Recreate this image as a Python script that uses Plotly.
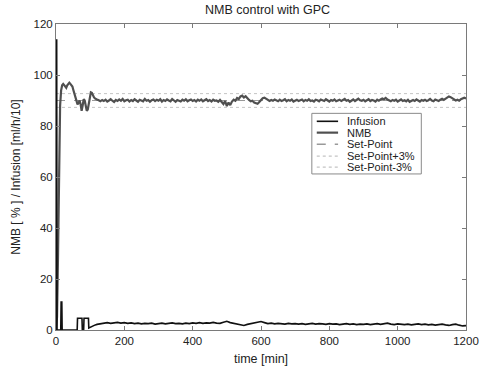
import numpy as np
import plotly.graph_objects as go

# ---------------- data ----------------
title = "NMB control with GPC"
x_label = "time [min]"
y_label = "NMB [ % ] / Infusion [ml/h/10]"
x_ticks = [0, 200, 400, 600, 800, 1000, 1200]
y_ticks = [0, 20, 40, 60, 80, 100, 120]

set_point = 90.0
set_plus = 92.7
set_minus = 87.3

# NMB transient (t, value)
nmb_t_early = [0, 3, 6, 9, 12, 15, 18, 21, 24, 27, 30, 33, 36, 39, 42, 45, 48, 51, 54,
               57, 60, 63, 66, 69, 72, 75, 78, 81, 84, 87, 90, 93, 96, 99, 102, 105,
               108, 111, 114, 117]
nmb_v_early = [0, 5, 30, 70, 88, 94, 96, 96.5, 96, 95.5, 95, 96, 96.5, 97, 96.5, 96,
               95.5, 94, 92.5, 91, 89.5, 88.5, 89, 90, 88.5, 86, 88, 90.5, 90, 88,
               86, 86.5, 89, 91.5, 93.2, 93, 92, 91.3, 90.8, 90.5]
# NMB steady state, every 5 min from 120 to 1200
nmb_v_steady = [
    90.4, 90.1, 89.7, 90.2, 89.8, 90.3, 89.6, 90.0, 90.5, 89.9, 89.4, 90.2,
    89.8, 90.4, 89.9, 90.6, 89.7, 90.1, 90.3, 89.6, 90.2, 89.8, 90.5, 90.0,
    89.5, 90.3, 90.0, 89.7, 90.6, 89.9, 90.2, 89.5, 90.1, 90.4, 89.8, 90.3,
    89.9, 90.5, 89.6, 90.2, 89.8, 90.4, 90.0, 89.7, 90.6, 90.1, 89.5, 90.2,
    90.0, 89.6, 90.3, 89.9, 90.5, 89.7, 90.1, 90.4, 89.8, 90.2, 89.6, 90.3,
    89.9, 90.4, 89.7, 90.1, 90.5, 89.8, 90.2, 89.6, 90.3, 89.9, 90.0, 89.5,
    90.2, 89.4, 88.6, 89.8, 87.8, 89.2, 88.2, 89.6, 90.3, 89.9, 91.0, 90.6,
    91.6, 91.9, 91.2, 91.7, 90.8, 90.2, 89.7, 89.9, 89.2, 88.9, 88.7, 89.4,
    90.2, 90.9, 91.1, 90.6, 90.3, 89.8, 90.2, 89.9, 90.4, 90.0, 89.7, 90.3,
    89.8, 90.1, 90.5, 89.7, 90.2, 89.9, 90.4, 89.6, 90.1, 90.3, 89.8, 90.0,
    90.4, 89.7, 90.2, 89.9, 90.5, 89.8, 90.0, 89.6, 90.3, 90.1, 89.7, 90.4,
    90.0, 89.8, 90.5, 90.1, 89.6, 90.2, 89.9, 90.4, 89.7, 90.0, 90.3, 89.8,
    90.1, 90.6, 89.9, 90.2, 89.5, 90.0, 90.4, 89.8, 90.2, 90.7, 90.1, 89.9,
    90.3, 89.7, 90.1, 90.5, 89.8, 90.2, 90.0, 89.6, 90.3, 89.9, 90.4, 90.8,
    90.5, 91.0, 90.4, 90.1, 89.7, 90.2, 89.9, 90.3, 89.6, 90.0, 90.4, 89.8,
    90.1, 89.7, 90.3, 89.5, 89.9, 90.2, 89.8, 90.4, 90.0, 89.6, 90.2, 89.9,
    90.3, 89.8, 90.1, 90.6, 90.0, 89.7, 90.4, 90.1, 89.8, 90.3, 90.7, 90.2,
    90.6, 91.2, 91.6, 91.3, 90.8, 90.4, 90.0, 90.3, 89.9, 90.5, 90.9, 91.1,
    90.8]

# Infusion transient (t, value)
inf_t_early = [0, 0.5, 2, 3, 14, 15, 17, 18, 62, 63, 76, 77, 81, 82, 95, 96, 100, 105, 110, 115]
inf_v_early = [0, 114, 114, 0, 0, 11, 11, 0, 0, 4.6, 4.6, 0.3, 0.3, 4.6, 4.6, 0.8, 1.1, 1.5, 1.8, 2.0]
# Infusion steady state, every 10 min from 120 to 1200
inf_v_steady = [
    2.2, 2.5, 2.7, 2.9, 2.6, 2.8,
    3.0, 2.7, 2.9, 2.6, 2.8, 2.5,
    2.7, 2.4, 2.6, 2.5, 2.7, 2.3,
    2.5, 2.7, 2.4, 2.6, 2.8, 2.5,
    2.6, 2.4, 2.7, 2.5, 2.8, 2.6,
    2.9, 2.6, 2.8, 2.7, 3.0, 2.7,
    2.6, 3.0, 3.4, 2.9, 2.6, 2.3,
    1.9, 1.8, 2.2, 2.5, 2.8, 3.1,
    3.3, 2.9, 2.5, 2.7, 2.4, 2.6,
    2.5, 2.3, 2.6, 2.4, 2.5, 2.3,
    2.5, 2.2, 2.4, 2.6, 2.3, 2.5,
    2.4, 2.2, 2.5, 2.3, 2.4, 2.1,
    2.3, 2.5, 2.2, 2.4, 2.1, 2.3,
    2.2, 2.4, 2.1, 2.3, 2.5, 2.2,
    2.4, 2.7, 2.3, 2.1, 2.4, 2.2,
    2.1, 2.3, 2.0, 2.2, 2.4, 2.1,
    2.3, 2.0, 2.2, 1.9, 2.1, 2.3,
    2.0, 1.8, 2.1, 2.3, 1.9, 1.6,
    1.7]

nmb_t = nmb_t_early + list(np.arange(120, 1201, 5))
nmb_v = nmb_v_early + nmb_v_steady
inf_t = inf_t_early + list(np.arange(120, 1201, 10))
inf_v = inf_v_early + inf_v_steady

# ---------------- styles ----------------
series = [
    dict(name="Infusion", color="#111111", dash="solid", width=1.6),
    dict(name="NMB", color="#505050", dash="solid", width=2.2),
    dict(name="Set-Point", color="#999999", dash="dash", width=1),
    dict(name="Set-Point+3%", color="#c4c4c4", dash="dot", width=1),
    dict(name="Set-Point-3%", color="#c4c4c4", dash="dot", width=1),
]
sty = {s["name"]: s for s in series}

fig = go.Figure()

def add(name, x, y):
    s = sty[name]
    fig.add_trace(go.Scatter(x=x, y=y, mode="lines", name=name, showlegend=False,
                             line=dict(color=s["color"], dash=s["dash"], width=s["width"])))

add("Set-Point+3%", [0, 1200], [set_plus, set_plus])
add("Set-Point-3%", [0, 1200], [set_minus, set_minus])
add("Set-Point", [0, 1200], [set_point, set_point])
add("NMB", nmb_t, nmb_v)
add("Infusion", inf_t, inf_v)

font = "Liberation Sans, Arial, sans-serif"
axcol = "#7a7a7a"

# custom compact legend
L = dict(x0=0.624, x1=0.891, y0=0.510, y1=0.708)
fig.add_shape(type="rect", xref="paper", yref="paper", x0=L["x0"], x1=L["x1"],
              y0=L["y0"], y1=L["y1"], line=dict(color="#8a8a8a", width=1),
              fillcolor="white", layer="above")
ys = [0.682, 0.645, 0.607, 0.568, 0.532]
for s, yy in zip(series, ys):
    fig.add_shape(type="line", xref="paper", yref="paper", x0=0.636, x1=0.688,
                  y0=yy, y1=yy, layer="above",
                  line=dict(color=s["color"], dash=s["dash"], width=max(s["width"], 1.3)))
    fig.add_annotation(xref="paper", yref="paper", x=0.705, y=yy, text=s["name"],
                       showarrow=False, xanchor="left", yanchor="middle",
                       font=dict(family=font, size=11, color="#222"))

fig.update_layout(
    width=491, height=376,
    margin=dict(l=56, r=12, t=24, b=44),
    paper_bgcolor="white", plot_bgcolor="white",
    font=dict(family=font, size=11, color="#222"),
    title=dict(text=title, x=0.545, xanchor="center", y=0.974, yanchor="middle",
               font=dict(family=font, size=12.5, color="#222")),
    showlegend=False,
)
fig.update_xaxes(range=[0, 1200], tickvals=x_ticks, ticktext=[str(v) for v in x_ticks],
                 showgrid=False, zeroline=False, showline=True, linecolor=axcol,
                 linewidth=1, mirror="ticks", ticks="inside", ticklen=4, tickcolor=axcol,
                 tickfont=dict(size=11.5),
                 title=dict(text=x_label, font=dict(size=12.5), standoff=8))
fig.update_yaxes(range=[0, 120], tickvals=y_ticks, ticktext=[str(v) for v in y_ticks],
                 showgrid=False, zeroline=False, showline=True, linecolor=axcol,
                 linewidth=1, mirror="ticks", ticks="inside", ticklen=4, tickcolor=axcol,
                 tickfont=dict(size=11.5),
                 title=dict(text=y_label, font=dict(size=12), standoff=10))

fig.write_html("out.html")
